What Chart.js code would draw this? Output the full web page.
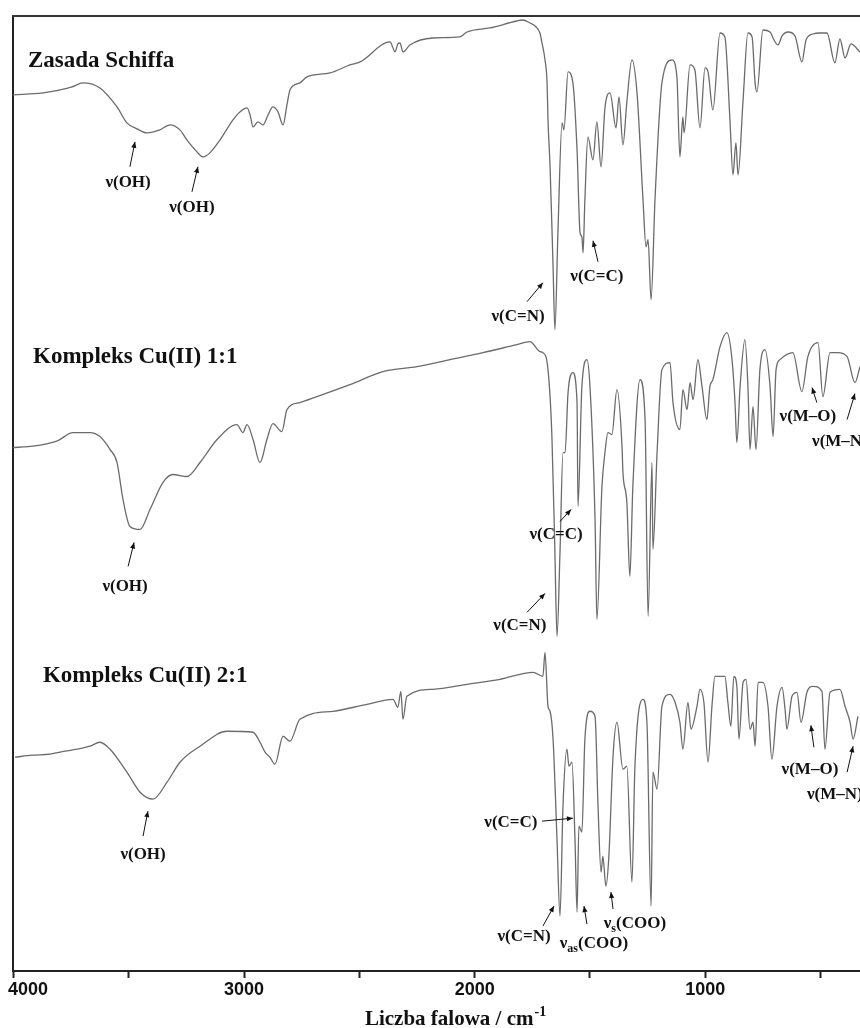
<!DOCTYPE html>
<html><head><meta charset="utf-8">
<script src="https://cdn.jsdelivr.net/npm/chart.js@4.4.0/dist/chart.umd.min.js"></script>
<style>html,body{margin:0;padding:0;background:#fff;overflow:hidden}</style>
</head><body>
<canvas id="c" width="860" height="1028"></canvas>
<script>
// x axis (wavenumber, cm-1), reversed
const xTicks = [4000,3500,3000,2500,2000,1500,1000,500];
const xTickLabels = ['4000','','3000','','2000','','1000',''];
const xTitleMain = 'Liczba falowa / cm';
const xTitleSup = '-1';
const seriesNames = ['Zasada Schiffa','Kompleks Cu(II) 1:1','Kompleks Cu(II) 2:1'];
const seriesNamePos = [[3937,90.5],[3915,60.9],[3872,28.9]];

// Zasada Schiffa (offset transmittance, a.u.)
const wn1 = [4002,3872,3798,3746,3699,3625,3551,3508,3464,3421,3365,3321,3278,3248,3204,3178,3148,3104,3048,3018,2987,2974,2961,2940,2918,2896,2875,2853,2831,2814,2801,2758,2727,2627,2541,2497,2367,2354,2346,2333,2324,2311,2281,2181,2064,2033,1934,1817,1791,1760,1738,1717,1708,1695,1686,1682,1673,1660,1652,1639,1621,1613,1595,1574,1556,1543,1535,1530,1522,1509,1487,1470,1452,1435,1413,1387,1374,1357,1340,1318,1296,1270,1257,1248,1235,1218,1188,1144,1123,1110,1097,1092,1066,1045,1023,1001,988,967,936,915,893,880,867,858,836,815,797,784,776,750,719,702,685,667,641,611,581,563,533,503,472,438,416,394,368,329];
const t1 = [87.7,87.9,88.2,88.5,88.9,88.4,86.5,84.9,84.3,83.9,84.2,84.7,84.2,83.2,82.0,81.5,81.9,83.2,85.2,86.0,86.4,85.7,84.5,85.0,84.7,85.7,86.5,86.0,84.7,86.7,88.2,88.9,89.5,89.9,90.7,91.0,93.0,92.4,92.0,92.8,92.9,92.0,92.7,93.4,93.5,94.0,94.4,95.1,95.2,94.9,94.6,93.9,92.9,91.2,88.9,85.2,80.5,70.5,64.2,73.9,84.9,84.2,90.0,88.9,82.2,73.9,73.5,71.9,77.2,83.5,81.2,85.0,80.5,86.4,87.9,84.4,87.5,82.7,87.0,91.2,87.9,77.2,72.5,73.2,67.2,77.2,88.9,91.2,89.5,81.5,85.5,83.9,90.7,90.2,84.4,90.4,90.0,86.2,93.9,93.5,85.2,79.7,82.9,79.7,87.2,93.9,93.5,88.9,88.0,94.2,94.0,93.2,92.7,93.6,94.0,93.6,91.0,93.2,93.8,93.9,93.9,90.9,93.3,91.4,92.8,92.0];

// Kompleks Cu(II) 1:1
const wn2 = [4002,3937,3872,3807,3742,3668,3625,3581,3551,3525,3495,3451,3408,3352,3308,3248,3191,3117,3031,3005,2987,2961,2931,2901,2875,2836,2814,2758,2684,2541,2398,2250,2107,1964,1817,1760,1717,1704,1682,1665,1652,1643,1630,1617,1608,1595,1574,1556,1552,1535,1513,1500,1478,1470,1448,1435,1422,1405,1383,1361,1357,1340,1327,1314,1283,1261,1248,1231,1227,1209,1188,1153,1140,1110,1097,1079,1066,1053,1032,1014,993,980,967,936,906,884,871,863,849,828,815,806,793,780,763,741,719,706,693,676,620,581,555,511,490,459,425,385,351,329];
const t2 = [52.4,52.5,52.7,53.1,53.9,53.9,53.5,52.2,50.9,47.2,44.5,44.2,46.2,48.9,49.7,49.5,50.9,53.2,54.7,53.9,54.7,53.2,50.9,53.2,54.8,54.0,56.2,56.9,57.5,58.7,60.0,60.5,61.2,61.9,62.7,63.0,62.0,61.9,60.2,53.5,41.9,33.5,41.9,51.9,51.9,57.9,59.9,56.9,46.5,58.5,61.2,58.5,45.2,35.2,48.5,51.9,53.9,53.7,58.2,52.5,49.9,46.9,39.5,48.5,59.2,55.2,35.5,50.9,42.2,51.9,60.2,60.9,56.9,54.2,58.2,56.2,58.9,57.2,61.2,58.5,55.2,58.5,59.2,62.5,63.9,61.2,56.9,52.9,58.5,63.2,58.5,52.2,56.5,52.2,60.2,62.2,58.5,53.5,60.2,61.2,61.9,58.0,61.5,62.9,57.5,61.9,61.9,61.5,58.9,60.5];

// Kompleks Cu(II) 2:1
const wn3 = [3993,3920,3842,3777,3725,3668,3625,3581,3508,3451,3395,3334,3278,3191,3074,2961,2931,2909,2888,2866,2831,2801,2758,2614,2467,2354,2333,2320,2311,2294,2181,2033,1890,1747,1704,1695,1682,1673,1660,1643,1630,1617,1600,1591,1578,1565,1556,1548,1535,1522,1500,1478,1465,1452,1444,1431,1418,1400,1383,1357,1340,1318,1305,1270,1253,1235,1227,1209,1188,1153,1131,1110,1097,1075,1062,1036,1023,1006,988,971,958,915,902,889,876,863,854,836,823,806,793,784,771,750,728,711,689,667,654,646,624,602,585,559,533,494,481,459,416,394,372,359,338];
const t3 = [21.4,21.6,21.7,22.0,22.2,22.5,22.9,22.2,19.9,17.9,17.2,18.9,20.9,22.5,24.0,23.9,22.9,21.9,21.4,20.7,23.5,23.0,25.2,26.0,26.7,27.2,26.4,28.0,25.2,27.5,28.2,28.7,29.2,29.9,29.5,31.9,26.5,26.0,23.2,13.2,5.5,16.5,22.2,20.5,20.9,13.2,5.9,14.5,13.9,23.2,26.0,25.5,16.5,9.9,11.5,8.5,11.5,21.5,24.9,20.2,20.5,8.9,20.5,27.2,24.9,6.5,19.9,18.2,26.5,27.7,26.9,24.9,22.2,26.9,24.2,26.5,28.2,26.9,20.9,26.5,29.5,29.5,26.9,24.5,29.5,28.5,23.2,28.9,29.2,24.2,24.9,22.5,28.9,28.9,26.5,21.2,26.5,28.4,26.2,24.2,27.5,27.9,24.9,27.9,28.5,28.0,22.2,27.9,28.2,26.5,24.9,23.2,25.5];

// band annotations: label centre (x,y) and arrow tail->tip, in data units
const bandLabels = [
  {t:'ν(OH)', x:3503, y:78.9, a:[3495,80.5,3473,83.0]},
  {t:'ν(OH)', x:3226, y:76.4, a:[3226,78.0,3200,80.5]},
  {t:'ν(C=N)', x:1812, y:65.5, a:[1773,67.0,1704,68.9]},
  {t:'ν(C=C)', x:1470, y:69.5, a:[1465,71.0,1487,73.1]},
  {t:'ν(OH)', x:3516, y:38.5, a:[3503,40.5,3477,42.9]},
  {t:'ν(C=C)', x:1647, y:43.7, a:[1630,45.0,1582,46.2]},
  {t:'ν(C=N)', x:1804, y:34.6, a:[1773,35.9,1695,37.8]},
  {t:'ν(M–O)', x:555, y:55.5, a:[516,56.9,537,58.4]},
  {t:'ν(M–N)', x:416, y:53.0, a:[385,55.2,351,57.8]},
  {t:'ν(OH)', x:3438, y:11.7, a:[3438,13.5,3417,16.0]},
  {t:'ν(C=C)', x:1843, y:14.9, a:[1708,15.0,1574,15.3]},
  {t:'ν(C=N)', x:1786, y:3.4, a:[1704,4.5,1656,6.5]},
  {t:'ν', sub:'as', post:'(COO)', x:1483, y:2.7, a:[1513,4.7,1526,6.5]},
  {t:'ν', sub:'s', post:'(COO)', x:1305, y:4.7, a:[1400,6.2,1409,7.9]},
  {t:'ν(M–O)', x:546, y:20.2, a:[529,22.4,542,24.6]},
  {t:'ν(M–N)', x:438, y:17.7, a:[385,19.9,359,22.5]}
];
const xTitlePos = 2085;

const pts = (w,t) => w.map((v,i)=>({x:v, y:t[i]}));
const LINE = '#6b6b6b';
const SERIF = '"Liberation Serif","Times New Roman",serif';
const SANS = '"Liberation Sans",Arial,sans-serif';

function arrow(ctx, x1,y1,x2,y2){
  ctx.beginPath(); ctx.moveTo(x1,y1); ctx.lineTo(x2,y2); ctx.stroke();
  const ang = Math.atan2(y2-y1, x2-x1), L=6, W=2.6;
  ctx.beginPath();
  ctx.moveTo(x2,y2);
  ctx.lineTo(x2-L*Math.cos(ang)+W*Math.sin(ang), y2-L*Math.sin(ang)-W*Math.cos(ang));
  ctx.lineTo(x2-L*Math.cos(ang)-W*Math.sin(ang), y2-L*Math.sin(ang)+W*Math.cos(ang));
  ctx.closePath(); ctx.fill();
}

const overlay = {
  id:'overlay',
  afterDraw(chart){
    const {ctx, chartArea:ca, scales:{x,y}} = chart;
    ctx.save();
    // top frame line
    ctx.strokeStyle='#333'; ctx.lineWidth=2;
    ctx.beginPath(); ctx.moveTo(ca.left-1, ca.top); ctx.lineTo(ca.right, ca.top); ctx.stroke();
    // tick labels
    ctx.fillStyle='#111';
    ctx.font='bold 18px '+SANS; ctx.textAlign='center'; ctx.textBaseline='middle';
    xTicks.forEach((v,i)=>{
      const lab=xTickLabels[i]; if(!lab) return;
      let px=x.getPixelForValue(v); const w=ctx.measureText(lab).width;
      if(px-w/2<8) px=8+w/2;
      ctx.fillText(lab, px, ca.bottom+19);
    });
    // axis title
    ctx.font='bold 21px '+SERIF;
    const wMain=ctx.measureText(xTitleMain).width;
    ctx.font='bold 14px '+SERIF;
    const wSup=ctx.measureText(xTitleSup).width;
    let sx=x.getPixelForValue(xTitlePos)-(wMain+wSup)/2;
    ctx.textAlign='left'; ctx.textBaseline='alphabetic';
    ctx.font='bold 21px '+SERIF; ctx.fillText(xTitleMain, sx, ca.bottom+54);
    ctx.font='bold 14px '+SERIF; ctx.fillText(xTitleSup, sx+wMain+1, ca.bottom+45);
    // series names
    ctx.font='bold 23px '+SERIF; ctx.fillStyle='#111';
    seriesNames.forEach((n,i)=>{
      ctx.fillText(n, x.getPixelForValue(seriesNamePos[i][0]), y.getPixelForValue(seriesNamePos[i][1]));
    });
    // band labels
    ctx.textBaseline='middle';
    ctx.strokeStyle='#111'; ctx.fillStyle='#111'; ctx.lineWidth=1;
    bandLabels.forEach(b=>{
      const cx=x.getPixelForValue(b.x), cy=y.getPixelForValue(b.y);
      ctx.font='bold 17px '+SERIF;
      if(b.sub){
        const w1=ctx.measureText(b.t).width, w3=ctx.measureText(b.post).width;
        ctx.font='bold 12px '+SERIF; const w2=ctx.measureText(b.sub).width;
        let sx=cx-(w1+w2+w3)/2;
        ctx.textAlign='left';
        ctx.font='bold 17px '+SERIF; ctx.fillText(b.t, sx, cy);
        ctx.font='bold 12px '+SERIF; ctx.fillText(b.sub, sx+w1, cy+5);
        ctx.font='bold 17px '+SERIF; ctx.fillText(b.post, sx+w1+w2, cy);
      } else {
        ctx.textAlign='center'; ctx.fillText(b.t, cx, cy);
      }
      arrow(ctx, x.getPixelForValue(b.a[0]), y.getPixelForValue(b.a[1]), x.getPixelForValue(b.a[2]), y.getPixelForValue(b.a[3]));
    });
    ctx.restore();
  }
};

const ds = (w,t)=>({data:pts(w,t), borderColor:LINE, borderWidth:1.3, pointRadius:0, cubicInterpolationMode:'monotone', fill:false});

new Chart(document.getElementById('c'), {
  type:'line',
  data:{datasets:[ds(wn1,t1), ds(wn2,t2), ds(wn3,t3)]},
  options:{
    responsive:false, animation:false, devicePixelRatio:1,
    layout:{padding:{left:13, top:16, right:0, bottom:50}},
    plugins:{legend:{display:false}, tooltip:{enabled:false}},
    scales:{
      x:{type:'linear', reverse:true, min:329, max:4002,
        afterBuildTicks:(s)=>{ s.ticks = xTicks.map(v=>({value:v})); },
        ticks:{display:false},
        grid:{display:true, drawOnChartArea:false, drawTicks:true, tickLength:7, tickWidth:2, tickColor:'#222'},
        border:{display:true, width:2, color:'#222'}},
      y:{type:'linear', min:0, max:95.6,
        ticks:{display:false},
        grid:{display:true, drawOnChartArea:false, drawTicks:false},
        border:{display:true, width:2, color:'#222'}}
    }
  },
  plugins:[overlay]
});
</script>
</body></html>
